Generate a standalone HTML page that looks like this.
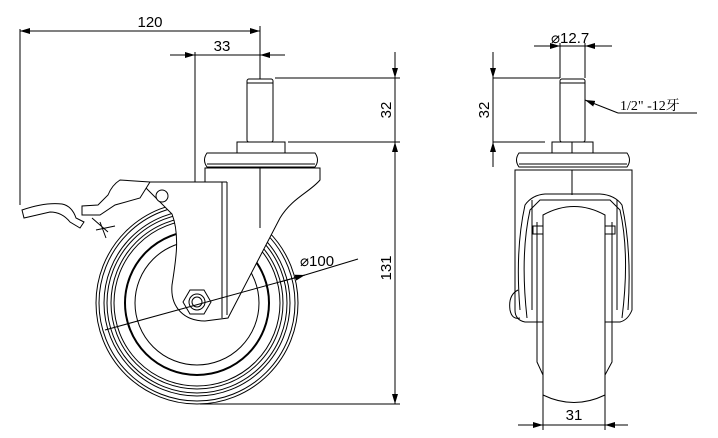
<!DOCTYPE html>
<html><head><meta charset="utf-8"><style>
html,body{margin:0;padding:0;background:#fff;}
svg{display:block;}
text{font-family:"Liberation Sans","Noto Sans CJK SC",sans-serif;fill:#000;}
</style></head><body>
<svg width="718" height="438" viewBox="0 0 718 438" xmlns="http://www.w3.org/2000/svg">
<defs>
<marker id="a" viewBox="0 0 10 6" refX="10" refY="3" markerWidth="10" markerHeight="6" orient="auto-start-reverse" markerUnits="userSpaceOnUse"><path d="M0,0 L10,3 L0,6 Z" fill="#000"/></marker>
</defs>
<g stroke="#000" fill="none" stroke-width="1">
<!-- dims left -->
<line x1="20" y1="29" x2="20" y2="205"/>
<line x1="20" y1="31" x2="260" y2="31" marker-start="url(#a)" marker-end="url(#a)"/>
<line x1="260" y1="26" x2="260" y2="228"/>
<line x1="170" y1="55" x2="285" y2="55"/>
<line x1="183" y1="55" x2="195" y2="55" marker-end="url(#a)"/>
<line x1="273" y1="55" x2="260" y2="55" marker-end="url(#a)"/>
<line x1="195" y1="52" x2="195" y2="302"/>
<line x1="275" y1="78" x2="400" y2="78"/>
<line x1="288" y1="142" x2="400" y2="142"/>
<line x1="200" y1="404" x2="400" y2="404"/>
<line x1="395" y1="52" x2="395" y2="78" marker-end="url(#a)"/>
<line x1="395" y1="78" x2="395" y2="142"/>
<line x1="395" y1="142" x2="395" y2="404" marker-start="url(#a)" marker-end="url(#a)"/>
</g>
<text x="150" y="27" font-size="15" text-anchor="middle">120</text>
<text x="222" y="51" font-size="15" text-anchor="middle">33</text>
<text transform="translate(391,110) rotate(-90)" font-size="15" text-anchor="middle">32</text>
<text transform="translate(391,268) rotate(-90)" font-size="15" text-anchor="middle">131</text>

<!-- wheel left view -->
<g stroke="#000" fill="none" stroke-width="1">
<circle cx="197" cy="303" r="101"/>
<circle cx="197" cy="303" r="98"/>
<circle cx="197" cy="303" r="93"/>
<circle cx="197" cy="303" r="90"/>
<circle cx="197" cy="303" r="86"/>
<circle cx="197" cy="303" r="83"/>
<circle cx="197" cy="303" r="72" stroke-width="2"/>
<circle cx="197" cy="303" r="62"/>
</g>
<!-- fork -->
<path d="M140,182 L172,214 C180,235 176,260 172,285 C170,308 185,321 205,321 L228,318 L280,218 C292,198 310,192 320,180 L320,168 L205,168 L205,182 Z" fill="#fff" stroke="#000"/>
<g stroke="#000" fill="none" stroke-width="1">
<line x1="222" y1="182" x2="222" y2="318"/>
<line x1="227" y1="182" x2="227" y2="315"/>
<line x1="150" y1="182" x2="227" y2="182"/>
<path d="M205,168 L320,168 L320,178"/>
<line x1="260" y1="150" x2="260" y2="228"/>
<!-- plate & nut -->
<path d="M207,153 L315,153 Q320,160 315,167 L207,167 Q202,160 207,153 Z" fill="#fff"/>
<line x1="207" y1="164" x2="315" y2="164"/>
<rect x="237" y="142" width="48" height="11" fill="#fff"/>
<rect x="247" y="79" width="26" height="63" rx="2" fill="#fff"/>
<line x1="247" y1="83" x2="273" y2="83"/>
<!-- hex -->
<polygon points="183,302 190,290 204,290 211,302 204,314 190,314" fill="#fff"/>
<circle cx="197" cy="302" r="8"/>
<circle cx="197" cy="302" r="5"/>
<!-- brake -->
<circle cx="162" cy="196" r="6" fill="#fff"/>
<path d="M150,182 L120,180 Q112,185 108,195 L98,205 L82,206 L82,215 L100,215 L115,205 L140,198 Z" fill="#fff"/>
<path d="M22,210 Q45,202 62,204 Q72,206 76,218 L84,222 L80,228 L70,222 Q62,212 50,212 L24,218 Z" fill="#fff"/>
<path d="M92,218 L108,232 M100,222 L106,238 M96,230 L115,226"/>
<!-- diameter leader -->
<line x1="105" y1="330" x2="305" y2="275"/>
<line x1="280" y1="282" x2="305" y2="275" marker-end="url(#a)"/>
<line x1="305" y1="275" x2="358" y2="259"/>
</g>
<text x="300" y="266" font-size="15">⌀100</text>

<!-- right view -->
<g stroke="#000" fill="none" stroke-width="1">
<line x1="534" y1="46" x2="612" y2="46"/>
<line x1="548" y1="46" x2="560" y2="46" marker-end="url(#a)"/>
<line x1="597" y1="46" x2="585" y2="46" marker-end="url(#a)"/>
<line x1="560" y1="43" x2="560" y2="78"/>
<line x1="585" y1="43" x2="585" y2="78"/>
<line x1="493" y1="78" x2="560" y2="78"/>
<line x1="493" y1="142" x2="545" y2="142"/>
<line x1="493" y1="52" x2="493" y2="78" marker-end="url(#a)"/>
<line x1="493" y1="78" x2="493" y2="142"/>
<line x1="493" y1="167" x2="493" y2="142" marker-end="url(#a)"/>
<line x1="618" y1="113" x2="585" y2="100" marker-end="url(#a)"/>
<line x1="618" y1="113" x2="697" y2="113"/>
<!-- body -->
<path d="M515,170 L632,170 L632,310 Q628,320 620,322 L525,322 Q515,320 515,310 Z" fill="#fff"/>
<path d="M520,310 Q515,250 525,205 Q532,195 545,194 L600,194 Q615,195 622,205 Q632,250 628,310"/>
<path d="M527,318 Q520,255 530,210 L540,200 L610,200 L620,210 Q630,255 622,318"/>
<line x1="532" y1="200" x2="532" y2="310"/>
<line x1="617" y1="200" x2="617" y2="310"/>
<rect x="533" y="226" width="10" height="8"/>
<rect x="605" y="226" width="10" height="8"/>
<path d="M518,290 Q508,295 510,310 Q512,320 520,318"/>
<line x1="572" y1="170" x2="572" y2="195"/>
<path d="M537,222 L537,362 L543,375"/>
<path d="M612,222 L612,362 L605,375"/>
<path d="M543,215 Q574,198 605,215 L605,395 Q574,410 543,395 Z" fill="#fff"/>
<line x1="543" y1="215" x2="543" y2="400"/>
<line x1="605" y1="215" x2="605" y2="400"/>
<!-- plate/nut/stem -->
<path d="M519,153 L627,153 Q632,160 627,167 L519,167 Q514,160 519,153 Z" fill="#fff"/>
<line x1="519" y1="164" x2="627" y2="164"/>
<rect x="552" y="142" width="41" height="11" fill="#fff"/>
<line x1="572" y1="142" x2="572" y2="153"/>
<rect x="560" y="79" width="25" height="63" rx="2" fill="#fff"/>
<line x1="560" y1="83" x2="585" y2="83"/>
<!-- 31 dim -->
<line x1="543" y1="395" x2="543" y2="430"/>
<line x1="605" y1="395" x2="605" y2="430"/>
<line x1="518" y1="425" x2="628" y2="425"/>
<line x1="530" y1="425" x2="543" y2="425" marker-end="url(#a)"/>
<line x1="618" y1="425" x2="605" y2="425" marker-end="url(#a)"/>
</g>
<text x="551" y="43" font-size="15">⌀12.7</text>
<text transform="translate(489,110) rotate(-90)" font-size="15" text-anchor="middle">32</text>
<text x="620" y="110" font-size="14" style="font-family:'Liberation Serif','Noto Serif CJK SC',serif">1/2" -12牙</text>
<text x="574" y="420" font-size="15" text-anchor="middle">31</text>
</svg>
</body></html>
